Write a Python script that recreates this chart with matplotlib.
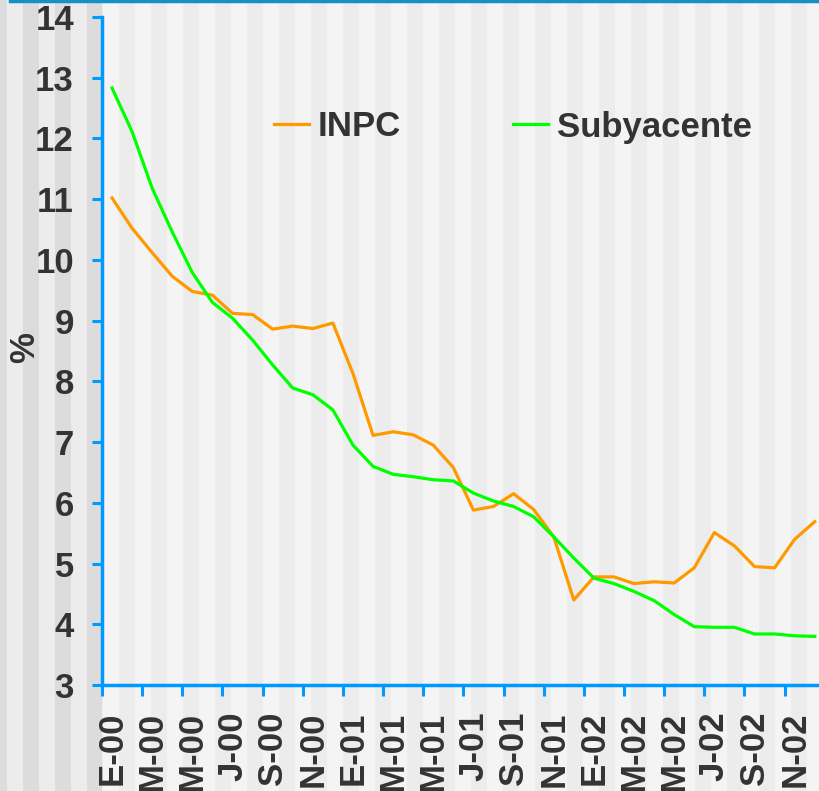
import numpy as np
import matplotlib
matplotlib.use("Agg")
import matplotlib.pyplot as plt
from matplotlib.patches import Rectangle

plt.rcParams['font.family'] = ['Liberation Sans', 'DejaVu Sans']
plt.rcParams['font.weight'] = 'bold'

# inflacion anual (%), ene-2000 a dic-2002
inpc = [11.02, 10.52, 10.12, 9.73, 9.48, 9.42, 9.12, 9.10, 8.86, 8.91, 8.87, 8.96,
        8.13, 7.11, 7.17, 7.12, 6.95, 6.58, 5.88, 5.94, 6.15, 5.89, 5.44, 4.40,
        4.78, 4.78, 4.67, 4.70, 4.68, 4.93, 5.51, 5.29, 4.95, 4.93, 5.40, 5.69]
subyacente = [12.83, 12.11, 11.18, 10.46, 9.79, 9.30, 9.04, 8.68, 8.27, 7.89, 7.78, 7.53,
              6.95, 6.60, 6.47, 6.43, 6.38, 6.36, 6.16, 6.03, 5.94, 5.77, 5.44, 5.09,
              4.76, 4.67, 4.54, 4.39, 4.16, 3.96, 3.95, 3.95, 3.84, 3.84, 3.81, 3.80]
tick_labels = ["E-00", "M-00", "M-00", "J-00", "S-00", "N-00",
               "E-01", "M-01", "M-01", "J-01", "S-01", "N-01",
               "E-02", "M-02", "M-02", "J-02", "S-02", "N-02"]

W, H = 819, 791
FS = 25
fig = plt.figure(figsize=(W / 100, H / 100), dpi=100)

# striped background, darker left of the y axis
bg = fig.add_axes([0, 0, 1, 1], zorder=-1)
bg.set_xlim(0, W)
bg.set_ylim(H, 0)
bg.axis('off')
bg.add_patch(Rectangle((0, 0), 102, H, color='#ececec', lw=0))
bg.add_patch(Rectangle((102, 0), W - 102, H, color='#f4f4f4', lw=0))
for x0 in range(-9, W, 32):
    a, b = x0, x0 + 16
    if a < 102:
        bg.add_patch(Rectangle((a, 0), min(b, 102) - a, H, color='#dcdcdc', lw=0))
    if b > 102:
        bg.add_patch(Rectangle((max(a, 102), 0), b - max(a, 102), H, color='#ececec', lw=0))
bg.plot([10, W], [1, 1], color='#1492c8', lw=2.5)

ax = fig.add_axes([102 / W, 1 - 685 / H, 722.8 / W, 668 / H])
ax.patch.set_visible(False)
x = np.arange(len(inpc))
ax.plot(x, inpc, color='#ff9900', lw=2.3, label='INPC')
ax.plot(x, subyacente, color='#00ff00', lw=2.3, label='Subyacente')
ax.set_xlim(-0.5, 35.5)
ax.set_ylim(3, 14)

ax.set_xticks(np.arange(-0.5, 36, 2))
ax.set_xticklabels([])
ax.set_xticks(np.arange(0, 36, 2), minor=True)
ax.set_xticklabels(tick_labels, minor=True, rotation=90)
ax.tick_params(axis='x', which='major', direction='out', length=8, width=2.2, color='#0099ff')
ax.tick_params(axis='x', which='minor', length=0, pad=19, labelsize=FS, labelcolor='#333333')
ax.set_yticks(range(3, 15))
ax.tick_params(axis='y', direction='out', length=7.2, width=2.2, color='#0099ff',
               pad=13, labelsize=FS, labelcolor='#333333')

for s in ['top', 'right']:
    ax.spines[s].set_visible(False)
for s in ['left', 'bottom']:
    ax.spines[s].set_color('#0099ff')
    ax.spines[s].set_linewidth(2.5)

ax.legend(loc='center left', bbox_to_anchor=(274 / W, 1 - 127 / H), bbox_transform=fig.transFigure,
          ncol=2, frameon=False, fontsize=FS, handlelength=1.0, handletextpad=0.26,
          columnspacing=3.22, borderpad=0, borderaxespad=0, labelcolor='#333333')

fig.text(25 / W, 1 - 348 / H, '%', rotation=90, ha='center', va='center',
         fontsize=FS, color='#333333')

fig.savefig('out.png', dpi=100)
